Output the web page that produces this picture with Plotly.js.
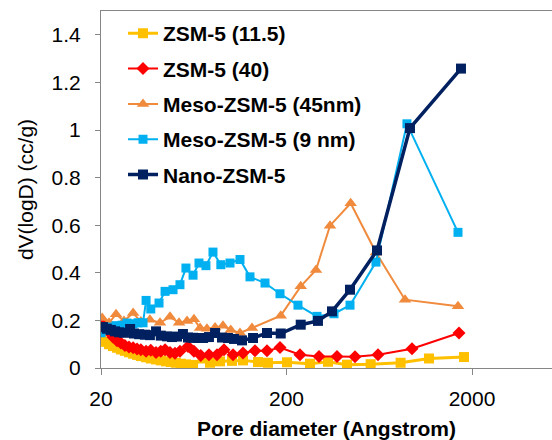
<!DOCTYPE html>
<html>
<head>
<meta charset="utf-8">
<script src="https://cdn.plot.ly/plotly-3.0.1.min.js"></script>
<style>
html,body{margin:0;padding:0;background:#fff;overflow:hidden;}
#chart{width:552px;height:440px;}
</style>
</head>
<body>
<div id="chart"></div>
<script>
// Series names
const seriesNames = ["ZSM-5 (11.5)", "ZSM-5 (40)", "Meso-ZSM-5 (45nm)", "Meso-ZSM-5 (9 nm)", "Nano-ZSM-5"];

// ZSM-5 (11.5)
const zsm115_d = [20.0,21.0,22.1,23.2,24.4,25.6,26.9,28.3,29.8,31.3,32.8,35.0,37.1,39.6,42.0,44.8,47.6,50.7,53.9,57.4,62.7,70.5,77.4,87.6,101.7,116.6,140.4,158.9,201.2,267.7,334.8,423.9,568.4,824.6,1173,1811];
const zsm115_v = [0.12,0.11,0.10,0.092,0.085,0.078,0.072,0.066,0.06,0.055,0.05,0.045,0.04,0.036,0.032,0.028,0.025,0.022,0.018,0.015,0.013,0.04,0.022,0.028,0.03,0.032,0.025,0.022,0.024,0.018,0.026,0.014,0.016,0.022,0.04,0.046];

// ZSM-5 (40)
const zsm40_d = [20.0,21.0,22.1,23.2,24.4,25.6,26.9,28.3,29.8,31.3,32.8,35.0,37.1,39.6,42.0,44.3,47.1,50.1,53.3,58.9,63.4,69.0,76.4,84.4,92.1,103.0,116.6,135.3,157.0,184.5,236.4,299.4,374.4,468.2,622.8,949.6,1702];
const zsm40_v = [0.195,0.17,0.15,0.13,0.115,0.105,0.095,0.088,0.085,0.08,0.077,0.07,0.075,0.065,0.07,0.077,0.065,0.062,0.07,0.09,0.07,0.053,0.056,0.056,0.077,0.056,0.063,0.072,0.072,0.086,0.056,0.048,0.048,0.047,0.056,0.081,0.147];

// Meso-ZSM-5 (45nm)
const meso45_d = [20.3,22.1,24.1,26.6,29.8,32.8,36.7,41.6,47.1,52.7,58.2,63.4,68.4,74.5,82.4,90.9,100.1,112.3,130.3,186.2,238.6,288.4,343.3,443.6,607,870.7,1681];
const meso45_v = [0.21,0.19,0.226,0.198,0.231,0.195,0.203,0.19,0.215,0.19,0.198,0.205,0.168,0.165,0.17,0.177,0.16,0.147,0.168,0.22,0.343,0.412,0.598,0.692,0.485,0.287,0.259];

// Meso-ZSM-5 (9 nm)
const meso9_d = [20.0,21.0,22.4,24.1,26.0,27.6,29.8,31.7,33.7,35.0,37.1,41.1,44.3,48.9,53.3,57.4,62.7,67.5,73.6,80.3,88.5,99.2,112.3,127.1,153.2,184.5,230.6,292,360.8,440,607,892,1681];
const meso9_v = [0.148,0.16,0.172,0.178,0.18,0.189,0.186,0.19,0.19,0.284,0.248,0.273,0.322,0.329,0.35,0.42,0.39,0.441,0.43,0.487,0.434,0.441,0.456,0.383,0.357,0.312,0.264,0.217,0.228,0.264,0.445,1.026,0.57];

// Nano-ZSM-5
const nano_d = [20.5,21.5,22.6,23.8,25.0,26.6,28.7,30.1,32.1,34.5,36.7,39.6,42.0,45.4,48.3,51.4,55.3,58.9,62.7,66.7,71.0,76.4,82.4,89.8,96.7,104.2,115.1,132.0,157.0,186.2,238.6,295.6,351.8,439.9,615,926,1744];
const nano_v = [0.172,0.165,0.16,0.154,0.15,0.148,0.164,0.145,0.142,0.14,0.138,0.154,0.136,0.133,0.13,0.132,0.143,0.128,0.127,0.126,0.126,0.13,0.147,0.128,0.126,0.122,0.116,0.126,0.147,0.145,0.182,0.198,0.238,0.329,0.494,1.008,1.258];

// Axis ticks
const xTickVals = [20, 200, 2000];
const xTickText = ["20", "200", "2000"];
const yTickVals = [0, 0.2, 0.4, 0.6, 0.8, 1, 1.2, 1.4];
const yTickText = ["0", "0.2", "0.4", "0.6", "0.8", "1", "1.2", "1.4"];

const FONT = "Liberation Sans, Arial, Helvetica, sans-serif";

const traces = [
  {x: zsm115_d, y: zsm115_v, name: seriesNames[0], mode: "lines+markers",
   line: {color: "#FFC000", width: 3}, marker: {symbol: "square", size: 10, color: "#FFC000"}},
  {x: zsm40_d, y: zsm40_v, name: seriesNames[1], mode: "lines+markers",
   line: {color: "#FF0000", width: 2}, marker: {symbol: "diamond", size: 10, color: "#FF0000"}},
  {x: meso45_d, y: meso45_v, name: seriesNames[2], mode: "lines+markers",
   line: {color: "#F08A3C", width: 2}, marker: {symbol: "triangle-up", size: 11, color: "#F08A3C"}},
  {x: meso9_d, y: meso9_v, name: seriesNames[3], mode: "lines+markers",
   line: {color: "#00B0F0", width: 2}, marker: {symbol: "square", size: 9, color: "#00B0F0"}},
  {x: nano_d, y: nano_v, name: seriesNames[4], mode: "lines+markers",
   line: {color: "#002060", width: 3.5}, marker: {symbol: "square", size: 10, color: "#002060"}}
];
traces.forEach((t, i) => { t.type = "scatter"; t.legendgroup = "g" + i; });

const layout = {
  width: 552, height: 440,
  margin: {l: 101, r: 0, t: 11, b: 72, pad: 0},
  paper_bgcolor: "#fff", plot_bgcolor: "#fff",
  font: {family: FONT, size: 21, color: "#000"},
  showlegend: true,
  legend: {x: 0.0488, y: 0.994, xanchor: "left", yanchor: "top",
           bgcolor: "rgba(255,255,255,0)", borderwidth: 0,
           font: {family: FONT, size: 21, color: "#000", weight: "bold"},
           traceorder: "grouped", tracegroupgap: 5},
  xaxis: {
    type: "log", range: [Math.log10(20), Math.log10(20) + 451/185.5],
    tickmode: "array", tickvals: xTickVals, ticktext: xTickText,
    ticks: "outside", ticklen: 6, tickcolor: "#868686", tickwidth: 1,
    showline: true, linecolor: "#868686", linewidth: 1, mirror: true,
    showgrid: false, zeroline: false,
    tickfont: {family: FONT, size: 21, color: "#000"},
    ticklabelstandoff: 6,
    title: {text: "Pore diameter (Angstrom)", font: {family: FONT, size: 21, color: "#000", weight: "bold"}, standoff: 22}
  },
  yaxis: {
    range: [0, 1.5],
    tickmode: "array", tickvals: yTickVals, ticktext: yTickText,
    ticks: "outside", ticklen: 5, tickcolor: "#868686", tickwidth: 1,
    showline: true, linecolor: "#868686", linewidth: 1, mirror: false,
    showgrid: false, zeroline: false,
    tickfont: {family: FONT, size: 21, color: "#000"},
    ticklabelstandoff: 10,
    title: {text: "dV(logD) (cc/g)", font: {family: FONT, size: 21, color: "#000"}, standoff: 12}
  }
};

Plotly.newPlot("chart", traces, layout, {displayModeBar: false, staticPlot: true});
</script>
</body>
</html>
